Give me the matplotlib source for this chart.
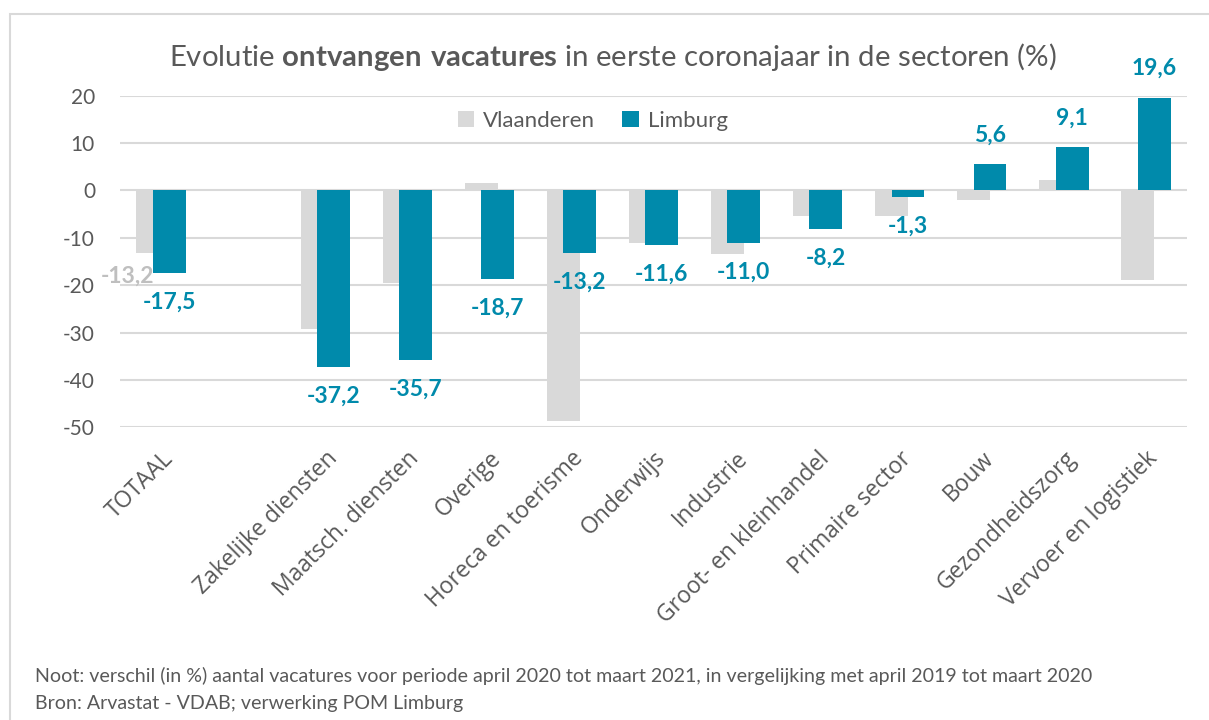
import numpy as np
import matplotlib.pyplot as plt
from matplotlib.patches import Rectangle

sectoren = ["TOTAAL", "", "Zakelijke diensten", "Maatsch. diensten", "Overige",
            "Horeca en toerisme", "Onderwijs", "Industrie", "Groot- en kleinhandel",
            "Primaire sector", "Bouw", "Gezondheidszorg", "Vervoer en logistiek"]
vlaanderen = [-13.2, np.nan, -29.2, -19.6, 1.6, -48.7, -11.0, -13.4, -5.5, -5.5, -2.0, 2.3, -18.9]
limburg = [-17.5, np.nan, -37.2, -35.7, -18.7, -13.2, -11.6, -11.0, -8.2, -1.3, 5.6, 9.1, 19.6]
yticks = [20, 10, 0, -10, -20, -30, -40, -50]

GRAY = "#D9D9D9"
TEAL = "#008AAB"
TXT = "#595959"

plt.rcParams["font.family"] = ["Lato", "DejaVu Sans"]
plt.rcParams["mathtext.fontset"] = "custom"
plt.rcParams["mathtext.rm"] = "Lato"
plt.rcParams["mathtext.bf"] = "Lato:bold"

fig = plt.figure(figsize=(12.09, 7.2), dpi=100)
ax = fig.add_axes([120 / 1209, 1 - 427.3 / 720, 1067 / 1209, (427.3 - 95.7) / 720])

x = np.arange(len(sectoren))
w = 0.4
ax.bar(x - 0.1, vlaanderen, w, color=GRAY, label="Vlaanderen", zorder=2)
ax.bar(x + 0.1, limburg, w, color=TEAL, label="Limburg", zorder=3)

for xi, v in zip(x, limburg):
    if np.isnan(v):
        continue
    off = 21 if v > 0 else -21
    ax.annotate(f"{v:.1f}".replace(".", ","), (xi + 0.1, v), xytext=(0, off),
                textcoords="offset points", ha="center", va="center",
                color=TEAL, fontsize=16.5, fontweight="bold", zorder=5)

# grijs label alleen bij TOTAAL
ax.annotate(f"{vlaanderen[0]:.1f}".replace(".", ","), (x[0] - 0.1, vlaanderen[0]),
            xytext=(-18, -17), textcoords="offset points", ha="center", va="center",
            color="#BFBFBF", fontsize=16.5, fontweight="bold", zorder=4)

ax.set_xlim(-0.5, len(sectoren) - 0.5)
ax.set_ylim(-50, 20)
ax.set_yticks(yticks)
ax.set_yticklabels([str(t) for t in yticks])
ax.yaxis.grid(True, color=GRAY, lw=1.5, zorder=0)
ax.set_axisbelow(True)
for s in ax.spines.values():
    s.set_visible(False)
ax.tick_params(axis="both", length=0, colors=TXT, labelsize=15)
ax.tick_params(axis="y", pad=18)
ax.set_xticks(x)
ax.set_xticklabels(sectoren, rotation=45, ha="right", rotation_mode="anchor",
                   fontsize=16.5, family=["Open Sans", "DejaVu Sans"])
ax.tick_params(axis="x", pad=14)

ax.legend(loc="upper center", bbox_to_anchor=(0.443, 1.015), ncol=2, frameon=False,
          fontsize=16, labelcolor=TXT, handlelength=0.75, handleheight=0.75,
          handletextpad=0.4, columnspacing=1.2)

fig.text(613 / 1209, 1 - 57 / 720, "Evolutie $\\bf{ontvangen\\ vacatures}$ in eerste coronajaar in de sectoren (%)",
         ha="center", va="center", fontsize=21.2, color=TXT)
fig.text(35 / 1209, 1 - 676 / 720,
         "Noot: verschil (in %) aantal vacatures voor periode april 2020 tot maart 2021, in vergelijking met april 2019 tot maart 2020",
         ha="left", va="center", fontsize=14.1, color=TXT)
fig.text(35 / 1209, 1 - 703 / 720, "Bron: Arvastat - VDAB; verwerking POM Limburg",
         ha="left", va="center", fontsize=14.1, color=TXT)

fig.patches.append(Rectangle((10 / 1209, -0.1), 1.2, 1 - 14 / 720 + 0.1, transform=fig.transFigure,
                             fill=False, edgecolor=GRAY, lw=1.5))

fig.savefig("out.png", dpi=100)
